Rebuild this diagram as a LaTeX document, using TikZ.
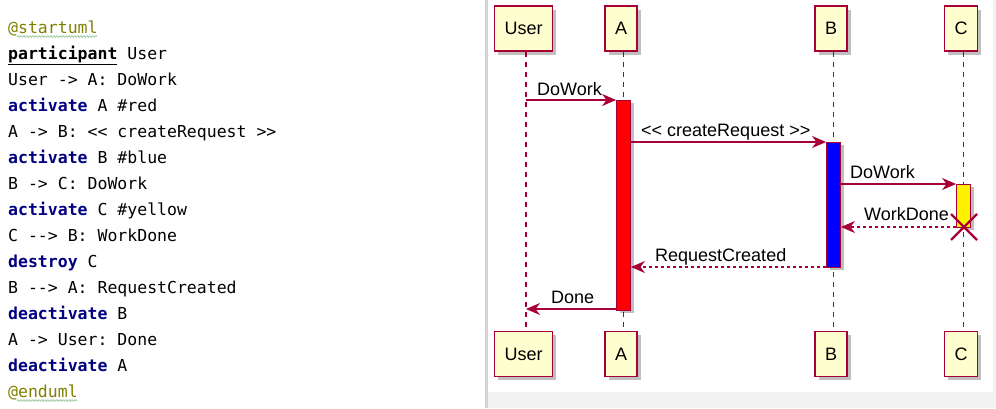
\documentclass[tikz,border=0pt]{standalone}
\usepackage{fontspec}
\setmainfont{Liberation Sans}
\newfontfamily\codefont{DejaVu Sans Mono}
\usetikzlibrary{arrows.meta,decorations.pathmorphing,shadows}
\definecolor{puml}{HTML}{A80036}
\definecolor{pboxfill}{HTML}{FEFECE}
\definecolor{kwcol}{HTML}{000080}
\definecolor{olivecol}{HTML}{808000}
\definecolor{divgray}{HTML}{D4D4D4}
\definecolor{panelgray}{HTML}{F2F2F2}
\definecolor{squig}{HTML}{9CC99C}
\newcommand\kwd[1]{{\bfseries\color{kwcol}#1}}
\frenchspacing
\begin{document}
\begin{tikzpicture}[x=1pt,y=-1pt,
  codeline/.style={anchor=base west,inner sep=0pt,font=\codefont\fontsize{16.5}{16.5}\selectfont\frenchspacing},
  partbox/.style={draw=puml,fill=pboxfill,line width=1.4pt,minimum height=45pt,inner xsep=10pt,
    font=\fontsize{18}{18}\selectfont,
    drop shadow={shadow xshift=3.5pt,shadow yshift=-3.5pt,fill=black,opacity=0.25}},
  lifeline/.style={draw=puml,line width=1.3pt,dash pattern=on 5pt off 5pt},
  actbar/.style={draw=puml,line width=0.9pt,minimum width=14pt,anchor=north,inner sep=0pt,
    drop shadow={shadow xshift=3pt,shadow yshift=-3pt,fill=black,opacity=0.25}},
  msg/.style={draw=puml,line width=1.2pt,-{Stealth[length=14pt,width=12pt,inset=4.5pt]}},
  retmsg/.style={msg,dash pattern=on 3pt off 3pt},
  msglabel/.style={anchor=base west,inner sep=0pt,font=\fontsize{18}{18}\selectfont}]
\useasboundingbox (0,0) rectangle (996,408);
\fill[white] (0,0) rectangle (996,408);
\fill[panelgray] (488,392) rectangle (996,408);
\fill[panelgray] (993,0) rectangle (996,408);
\fill[divgray] (484.5,0) rectangle (488,408);

% ---- code listing ----
\node[codeline] (l1) at (8,33) {\textcolor{olivecol}{@startuml}};
\node[codeline] (l2) at (8,59) {\underline{\bfseries participant} User};
\node[codeline] (l3) at (8,85) {User -> A: DoWork};
\node[codeline] (l4) at (8,111) {\kwd{activate} A \#red};
\node[codeline] (l5) at (8,137) {A -> B: <\kern0pt< createRequest >\kern0pt>};
\node[codeline] (l6) at (8,163) {\kwd{activate} B \#blue};
\node[codeline] (l7) at (8,189) {B -> C: DoWork};
\node[codeline] (l8) at (8,215) {\kwd{activate} C \#yellow};
\node[codeline] (l9) at (8,241) {C -\kern0pt-> B: WorkDone};
\node[codeline] (l10) at (8,267) {\kwd{destroy} C};
\node[codeline] (l11) at (8,293) {B -\kern0pt-> A: RequestCreated};
\node[codeline] (l12) at (8,319) {\kwd{deactivate} B};
\node[codeline] (l13) at (8,345) {A -> User: Done};
\node[codeline] (l14) at (8,371) {\kwd{deactivate} A};
\node[codeline] (l15) at (8,397) {\textcolor{olivecol}{@enduml}};
\draw[squig,line width=0.7pt,decorate,decoration={snake,amplitude=0.9pt,segment length=3pt}] (17,36.5) -- (97,36.5);
\draw[squig,line width=0.7pt,decorate,decoration={snake,amplitude=0.9pt,segment length=3pt}] (17,400.5) -- (77,400.5);

% ---- participants ----
\node[partbox] (U) at (523.5,28.5) {User};
\node[partbox] (A) at (621,28.5) {A};
\node[partbox] (B) at (831,28.5) {B};
\node[partbox] (C) at (961,28.5) {C};
\node[partbox] (Ub) at (523.5,354) {User};
\node[partbox] (Ab) at (621,354) {A};
\node[partbox] (Bb) at (831,354) {B};
\node[partbox] (Cb) at (961,354) {C};

% lifelines
\draw[lifeline] ([xshift=2.5pt]U.south) -- ([xshift=2.5pt]Ub.north);
\draw[lifeline] ([xshift=2.5pt]A.south) -- ([xshift=2.5pt]Ab.north);
\draw[lifeline] ([xshift=2.5pt]B.south) -- ([xshift=2.5pt]Bb.north);
\draw[lifeline] ([xshift=2.5pt]C.south) -- ([xshift=2.5pt]Cb.north);

% activation bars
\node[actbar,fill=red,minimum height=210pt] (actA) at (623.5,100) {};
\node[actbar,fill=blue,minimum height=125pt] (actB) at (833.5,142) {};
\node[actbar,fill=yellow,minimum height=43pt] (actC) at (963.5,184) {};

% message end points
\coordinate (m1s) at (526,100);   \coordinate (m1e) at (actA.west |- m1s);
\coordinate (m2s) at (actA.east |- 0,142); \coordinate (m2e) at (actB.west |- 0,142);
\coordinate (m3s) at (actB.east |- 0,184); \coordinate (m3e) at (actC.west |- 0,184);
\coordinate (m4s) at (actC.west |- 0,227); \coordinate (m4e) at (actB.east |- 0,227);
\coordinate (m5s) at (actB.west |- 0,267); \coordinate (m5e) at (actA.east |- 0,267);
\coordinate (m6s) at (actA.west |- 0,309); \coordinate (m6e) at (526,309);

\draw[msg] (m1s) -- (m1e);
\draw[msg] (m2s) -- (m2e);
\draw[msg] (m3s) -- (m3e);
\draw[retmsg] (m4s) -- (m4e);
\draw[retmsg] (m5s) -- (m5e);
\draw[msg] (m6s) -- (m6e);

\node[msglabel] (t1) at (537,95) {DoWork};
\node[msglabel] (t2) at (641,136) {<\kern0pt< createRequest >\kern0pt>};
\node[msglabel] (t3) at (850,178) {DoWork};
\node[msglabel] (t4) at (864,220) {WorkDone};
\node[msglabel] (t5) at (655,261) {RequestCreated};
\node[msglabel] (t6) at (551,303) {Done};

% destroy cross
\coordinate (X) at (964,227);
\draw[puml,line width=2.4pt] ([shift={(-13,-13)}]X) -- ([shift={(13,13)}]X);
\draw[puml,line width=2.4pt] ([shift={(-13,13)}]X) -- ([shift={(13,-13)}]X);
\end{tikzpicture}
\end{document}
